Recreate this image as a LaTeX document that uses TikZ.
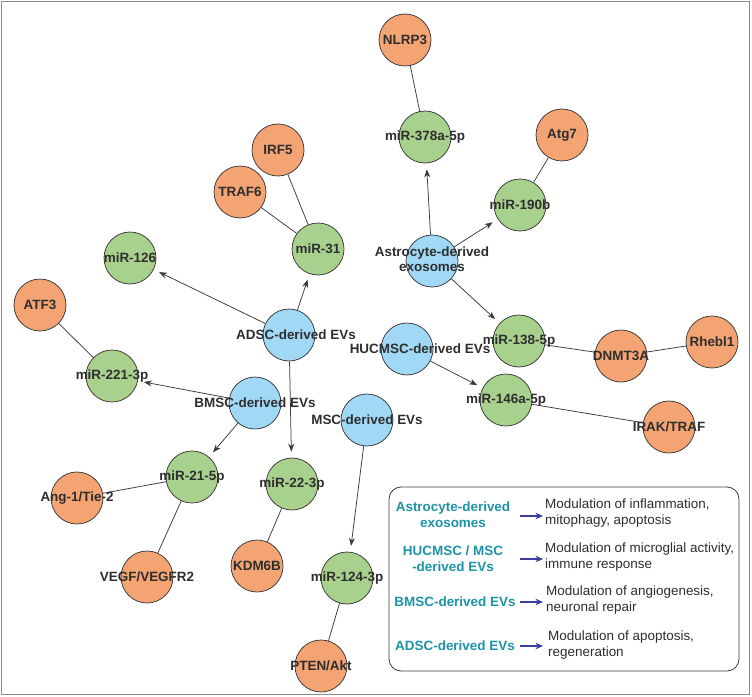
\documentclass[tikz,border=0pt]{standalone}
\usepackage{fontspec}
\setmainfont{Liberation Sans}
\usetikzlibrary{arrows.meta}
\pgfdeclarelayer{bg}
\pgfsetlayers{bg,main}
\definecolor{orangeN}{HTML}{F4A372}
\definecolor{greenN}{HTML}{A9D18E}
\definecolor{blueN}{HTML}{A0D8F6}
\definecolor{edgeC}{HTML}{3A3A3A}
\definecolor{tealC}{HTML}{1E93A8}
\definecolor{navyC}{HTML}{3A3F9E}
\definecolor{txtC}{HTML}{2E2E2E}
\definecolor{frameC}{HTML}{8C8C8C}
\newcommand{\ntxt}[1]{\makebox[0pt]{#1}}
\newcommand{\stxt}[2]{\makebox[0pt]{\hspace*{#1}#2}}
\begin{document}
\begin{tikzpicture}[x=1bp,y=-1bp,
  circ/.style={circle,draw=edgeC,line width=0.75bp,minimum size=52bp,inner sep=0pt,
    font=\fontsize{13.5}{16}\selectfont\bfseries,text=txtC},
  org/.style={circ,fill=orangeN},
  grn/.style={circ,fill=greenN},
  blu/.style={circ,fill=blueN},
  link/.style={draw=edgeC,line width=0.75bp},
  arr/.style={link,-{Stealth[length=8bp,width=6bp]},shorten >=6bp},
  legl/.style={font=\fontsize{13.5}{16}\selectfont\bfseries,text=tealC,align=center,inner sep=0pt},
  legd/.style={font=\fontsize{13.5}{16}\selectfont,text=txtC,align=left,anchor=west,inner sep=0pt},
  legarr/.style={draw=navyC,line width=1.1bp,-{Stealth[length=7.5bp,width=6.5bp]}}
]
\useasboundingbox (0,0) rectangle (752,697);

% nodes
\node[org] (nlrp3) at (405,40) {\ntxt{NLRP3}};
\node[grn] (m378) at (425,137) {\ntxt{miR-378a-5p}};
\node[org] (atg7) at (562,135) {\ntxt{Atg7}};
\node[grn] (m190) at (520,205) {\ntxt{miR-190b}};
\node[blu] (astro) at (432,261) {\ntxt{\begin{tabular}{@{}c@{}}Astrocyte-derived\\[-1bp]exosomes\end{tabular}}};
\node[org] (irf5) at (278,150) {\ntxt{IRF5}};
\node[org] (traf6) at (240,192) {\ntxt{TRAF6}};
\node[grn] (m31) at (318,249) {\ntxt{miR-31}};
\node[grn] (m126) at (130,258) {\ntxt{miR-126}};
\node[blu] (adsc) at (289,335) {\stxt{14bp}{ADSC-derived EVs}};
\node[blu] (huc) at (407,349) {\stxt{26bp}{HUCMSC-derived EVs}};
\node[grn] (m138) at (519,341) {\ntxt{miR-138-5p}};
\node[org] (dnmt) at (621,356) {\ntxt{DNMT3A}};
\node[org] (rheb) at (712,342) {\ntxt{Rhebl1}};
\node[grn] (m146) at (506,400) {\ntxt{miR-146a-5p}};
\node[org] (irak) at (669,427) {\ntxt{IRAK/TRAF}};
\node[org] (atf3) at (40,305) {\ntxt{ATF3}};
\node[grn] (m221) at (112,376) {\ntxt{miR-221-3p}};
\node[blu] (bmsc) at (255,403) {\ntxt{BMSC-derived EVs}};
\node[blu] (msc) at (367,420) {\ntxt{MSC-derived EVs}};
\node[grn] (m21) at (192,477) {\ntxt{miR-21-5p}};
\node[grn] (m22) at (292,484) {\ntxt{miR-22-3p}};
\node[org] (ang) at (77,498) {\ntxt{Ang-1/Tie-2}};
\node[org] (vegf) at (147,577) {\ntxt{VEGF/VEGFR2}};
\node[org] (kdm) at (257,566) {\ntxt{KDM6B}};
\node[grn] (m124) at (347,578) {\ntxt{miR-124-3p}};
\node[org] (pten) at (321,666) {\ntxt{PTEN/Akt}};

\begin{pgfonlayer}{bg}
\fill[white] (0,0) rectangle (752,697);
\draw[link] (nlrp3) -- (m378);
\draw[link] (atg7) -- (m190);
\draw[link] (irf5) -- (m31);
\draw[link] (traf6) -- (m31);
\draw[link] (atf3) -- (m221);
\draw[link] (m21) -- (ang);
\draw[link] (m21) -- (vegf);
\draw[link] (m22) -- (kdm);
\draw[link] (m124) -- (pten);
\draw[link] (m138) -- (dnmt);
\draw[link] (dnmt) -- (rheb);
\draw[link] (m146) -- (irak);
\draw[arr] (astro) -- (m378);
\draw[arr] (astro) -- (m190);
\draw[arr] (astro) -- (m138);
\draw[arr] (adsc) -- (m126);
\draw[arr] (adsc) -- (m31);
\draw[arr] (adsc) -- (m22);
\draw[arr] (bmsc) -- (m221);
\draw[arr] (bmsc) -- (m21);
\draw[arr] (huc) -- (m146);
\draw[arr] (msc) -- (m124);
\end{pgfonlayer}

% legend
\draw[edgeC,line width=0.8bp,rounded corners=12bp] (389,487) rectangle (739,671);
\node[legl] (l1) at (453,515) {Astrocyte-derived\\exosomes};
\node[legd] (d1) at (545,513) {Modulation of inflammation,\\mitophagy, apoptosis};
\coordinate (a1s) at (520,516); \coordinate (a1e) at (543,516);
\draw[legarr] (a1s) -- (a1e);
\node[legl] (l2) at (453,559) {HUCMSC / MSC\\-derived EVs};
\node[legd] (d2) at (545,557) {Modulation of microglial activity,\\immune response};
\coordinate (a2s) at (520,559); \coordinate (a2e) at (543,559);
\draw[legarr] (a2s) -- (a2e);
\node[legl] (l3) at (455,602) {BMSC-derived EVs};
\node[legd] (d3) at (546,600) {Modulation of angiogenesis,\\neuronal repair};
\coordinate (a3s) at (520,602); \coordinate (a3e) at (543,602);
\draw[legarr] (a3s) -- (a3e);
\node[legl] (l4) at (455,646) {ADSC-derived EVs};
\node[legd] (d4) at (548,645) {Modulation of apoptosis,\\regeneration};
\coordinate (a4s) at (520,646); \coordinate (a4e) at (543,646);
\draw[legarr] (a4s) -- (a4e);

% frame
\draw[frameC,line width=1.6bp] (1.5,1.5) rectangle (749.5,694.5);
\end{tikzpicture}
\end{document}
